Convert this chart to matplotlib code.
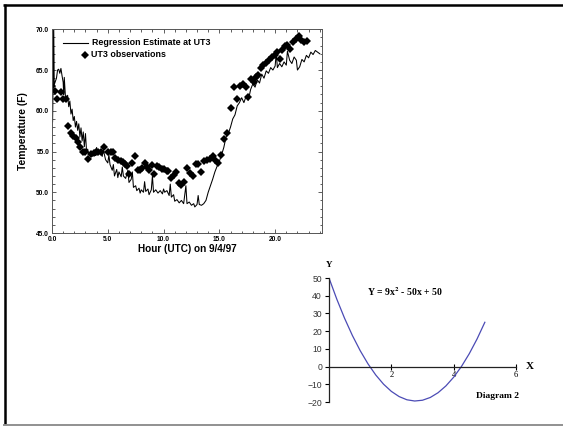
import matplotlib
matplotlib.use("Agg")
import matplotlib.pyplot as plt
from matplotlib.lines import Line2D
from matplotlib.ticker import MultipleLocator, FormatStrFormatter

# ---------------- data: top chart ----------------
reg_hour = [0.00, 0.05, 0.10, 0.15, 0.20, 0.30, 0.40, 0.50, 0.60, 0.70, 0.80, 0.90,
            1.00, 1.05, 1.10, 1.20, 1.30, 1.40, 1.50, 1.60, 1.70, 1.80, 1.90, 2.00,
            2.10, 2.20, 2.30, 2.40, 2.50, 2.60, 2.70, 2.80, 2.90, 3.00, 3.10, 3.20,
            3.30, 3.50, 3.60, 3.80, 3.90, 4.00, 4.10, 4.30, 4.50, 4.60, 4.80, 5.00,
            5.10, 5.20, 5.40, 5.50, 5.60, 5.80, 5.90, 6.00, 6.20, 6.30, 6.40, 6.60,
            6.80, 6.90, 7.10, 7.20, 7.30, 7.50, 7.60, 7.80, 7.90, 8.00, 8.20, 8.30,
            8.40, 8.60, 8.70, 8.90, 9.00, 9.10, 9.30, 9.50, 9.70, 9.90, 10.00, 10.10,
            10.30, 10.50, 10.60, 10.70, 10.90, 11.00, 11.20, 11.40, 11.60, 11.80, 12.00,
            12.10, 12.30, 12.50, 12.70, 12.80, 13.00, 13.10, 13.20, 13.40, 13.60, 13.80,
            14.00, 14.20, 14.40, 14.60, 14.80, 15.00, 15.20, 15.40, 15.60, 15.80, 16.00,
            16.20, 16.40, 16.60, 16.80, 17.00, 17.20, 17.40, 17.60, 17.80, 18.00, 18.20,
            18.40, 18.60, 18.80, 19.00, 19.20, 19.40, 19.60, 19.80, 20.00, 20.10, 20.20,
            20.40, 20.60, 20.80, 21.00, 21.10, 21.30, 21.50, 21.70, 21.90, 22.00, 22.20,
            22.40, 22.60, 22.80, 23.00, 23.20, 23.40, 23.60, 23.80, 24.00]
reg_temp = [63.0, 58.6, 63.5, 71.0, 63.2, 63.6, 64.0, 65.0, 65.1, 64.6, 65.2, 64.3,
            63.5, 62.0, 64.1, 61.8, 61.3, 61.9, 60.5, 61.2, 59.6, 60.2, 58.8, 59.3,
            58.0, 58.7, 57.6, 58.4, 56.8, 57.9, 56.3, 57.4, 55.6, 57.2, 55.0, 55.3,
            54.6, 54.9, 54.4, 55.1, 54.5, 55.5, 54.6, 55.0, 54.4, 55.2, 54.0, 53.6,
            54.6, 53.4, 52.7, 53.4, 52.0, 52.8, 51.8, 52.5, 51.9, 53.1, 52.0, 51.7,
            52.7, 51.2, 51.6, 52.5, 50.6, 50.8, 50.2, 50.5, 49.9, 50.3, 50.0, 51.3,
            50.1, 50.4, 49.7, 50.3, 52.0, 50.0, 50.3, 49.9, 50.2, 49.8, 50.4, 50.0,
            50.2, 49.6, 51.0, 49.4, 49.7, 48.9, 49.1, 48.7, 49.0, 48.6, 50.8,
            48.6, 48.8, 48.4, 48.6, 48.2, 48.5, 49.6, 48.5, 48.4, 48.6, 49.0,
            50.0, 50.8, 51.6, 52.5, 53.2, 53.8, 54.6, 55.5, 56.8, 57.2, 58.0,
            59.0, 59.5, 60.6, 61.0, 61.6, 61.0, 61.8, 61.3, 62.6, 63.3, 62.9,
            63.8, 63.4, 64.5, 64.0, 64.9, 64.6, 65.3, 65.0, 65.5, 67.1, 65.3,
            65.8, 65.4, 66.0, 65.6, 67.3, 66.2, 65.8, 66.6, 66.2, 65.0, 65.4,
            66.3, 66.0, 66.8, 66.5, 67.2, 66.9, 67.4, 67.2, 67.0]

obs_hour = [0.00, 0.30, 0.47, 0.77, 0.97, 1.27, 1.47, 1.71, 1.92, 2.15, 2.36, 2.54,
            2.74, 2.92, 3.19, 3.48, 3.72, 3.92, 4.16, 4.42, 4.69, 4.98, 5.31, 5.49,
            5.69, 5.93, 6.14, 6.34, 6.52, 6.73, 6.93, 7.17, 7.46, 7.70, 7.91, 8.11,
            8.35, 8.55, 8.73, 8.94, 9.14, 9.38, 9.59, 9.82, 10.03, 10.27, 10.41, 10.71,
            10.91, 11.15, 11.39, 11.59, 11.83, 12.06, 12.36, 12.63, 12.92, 13.13, 13.36,
            13.66, 13.89, 14.19, 14.40, 14.60, 14.84, 15.13, 15.43, 15.72, 16.02, 16.31,
            16.61, 16.84, 17.14, 17.35, 17.55, 17.85, 18.10, 18.25, 18.45, 18.70, 18.95,
            19.20, 19.45, 19.70, 19.95, 20.20, 20.45, 20.60, 20.85, 21.10, 21.35, 21.60,
            21.85, 22.10, 22.35, 22.60, 22.85]
obs_temp = [63.05, 62.4, 61.5, 62.3, 61.4, 61.4, 58.15, 57.25, 56.9, 56.6, 56.2, 55.6,
            55.0, 55.0, 54.1, 54.7, 54.8, 54.9, 55.0, 54.9, 55.6, 54.9, 55.0, 55.0,
            54.2, 54.0, 53.8, 53.7, 53.45, 53.2, 52.3, 53.6, 54.4, 52.7, 52.7, 53.0,
            53.6, 53.05, 52.7, 53.3, 52.3, 53.2, 53.1, 52.9, 52.8, 52.6, 52.55, 51.7,
            52.1, 52.5, 51.1, 50.9, 51.3, 53.0, 52.35, 51.95, 53.45, 53.45, 52.5,
            53.8, 53.9, 54.1, 54.4, 53.9, 53.65, 54.55, 56.5, 57.3, 60.3, 62.9,
            61.5, 63.1, 63.3, 62.9, 61.75, 63.9, 63.5, 64.1, 64.4, 65.3, 65.6,
            65.9, 66.2, 66.6, 66.9, 67.2, 66.3, 67.5, 67.9, 68.1, 67.6, 68.4,
            68.8, 69.2, 68.7, 68.5, 68.6]

x_major = [0.0, 5.0, 10.0, 15.0, 20.0]
y_major = [45.0, 50.0, 55.0, 60.0, 65.0, 70.0]

# ---------------- data: bottom chart ----------------
quad_x = [0.0, 0.25, 0.5, 0.75, 1.0, 1.25, 1.5, 1.75, 2.0, 2.25, 2.5, 2.75, 3.0,
          3.25, 3.5, 3.75, 4.0, 4.25, 4.5, 4.75, 5.0]
quad_y = [50.0, 38.06, 27.25, 17.56, 9.0, 1.56, -4.75, -9.94, -14.0, -16.94, -18.75,
          -19.44, -19.0, -17.44, -14.75, -10.94, -6.0, 0.06, 7.25, 15.56, 25.0]
q_yticks = [-20, -10, 0, 10, 20, 30, 40, 50]
q_xticks = [2, 4, 6]

W, H = 563, 426
fig = plt.figure(figsize=(W / 100, H / 100), dpi=100)
fig.patch.set_facecolor("white")

def frac(l, t, r, b):
    return [l / W, 1 - b / H, (r - l) / W, (b - t) / H]

# ---------------- slide border (background axes in pixel units) ----------------
bg = fig.add_axes([0, 0, 1, 1])
bg.set_xlim(0, W)
bg.set_ylim(H, 0)
bg.axis("off")
bg.plot([3, W], [5, 5], color="black", lw=1.8, solid_capstyle="butt")
bg.plot([4.5, 4.5], [4, 424], color="black", lw=1.8, solid_capstyle="butt")
bg.plot([3, W], [424.5, 424.5], color="#888888", lw=1.3, solid_capstyle="butt")

# ---------------- top chart ----------------
sans = "Liberation Sans"
ax = fig.add_axes(frac(52, 29.3, 322, 233))
ax.plot(reg_hour, reg_temp, color="black", lw=0.75)
ax.plot(obs_hour, obs_temp, linestyle="none", marker="D", markersize=3.9,
        color="black", markeredgewidth=0)
ax.set_xlim(0, 24.2)
ax.set_ylim(45, 70)
ax.set_xticks(x_major)
ax.set_yticks(y_major)
ax.xaxis.set_minor_locator(MultipleLocator(1))
ax.yaxis.set_minor_locator(MultipleLocator(1))
ax.xaxis.set_major_formatter(FormatStrFormatter("%.1f"))
ax.yaxis.set_major_formatter(FormatStrFormatter("%.1f"))
ax.tick_params(which="both", direction="in", top=True, right=True,
               labelsize=4.8, width=0.6, colors="#444444", labelcolor="black")
ax.tick_params(which="major", length=3, pad=2)
ax.tick_params(which="minor", length=1.8)
for lab in ax.get_xticklabels() + ax.get_yticklabels():
    lab.set_fontfamily(sans)
    lab.set_fontweight("bold")
for s in ax.spines.values():
    s.set_color("#555555")
    s.set_linewidth(0.7)
ax.set_xlabel("Hour (UTC) on 9/4/97", fontfamily=sans, fontweight="bold",
              fontsize=7.2, labelpad=1)
ax.set_ylabel("Temperature (F)", fontfamily=sans, fontweight="bold",
              fontsize=7.4, labelpad=6)

# legend
ax.add_line(Line2D([0.04, 0.135], [0.935, 0.935], transform=ax.transAxes,
                   color="black", lw=0.8))
ax.add_line(Line2D([0.124], [0.876], transform=ax.transAxes, marker="D",
                   markersize=3.9, color="black", markeredgewidth=0,
                   linestyle="none"))
ax.text(0.148, 0.935, "Regression Estimate at UT3", transform=ax.transAxes,
        fontfamily=sans, fontweight="bold", fontsize=6.4, va="center")
ax.text(0.145, 0.876, "UT3 observations", transform=ax.transAxes,
        fontfamily=sans, fontweight="bold", fontsize=6.4, va="center")

# ---------------- bottom chart ----------------
serif = "Liberation Serif"
bx = fig.add_axes(frac(329, 278, 516, 402))
bx.plot(quad_x, quad_y, color="#4b4bb5", lw=0.9)
bx.set_xlim(0, 6)
bx.set_ylim(-20, 50)
bx.patch.set_alpha(0)
bx.spines["top"].set_visible(False)
bx.spines["right"].set_visible(False)
bx.spines["bottom"].set_position(("data", 0))
for s in ("left", "bottom"):
    bx.spines[s].set_linewidth(0.9)
    bx.spines[s].set_color("#222222")
bx.set_yticks(q_yticks)
bx.set_xticks(q_xticks)
bx.tick_params(axis="y", direction="out", length=3, width=0.8, pad=2,
               labelsize=6.2, labelcolor="#333333")
bx.tick_params(axis="x", direction="inout", length=5, width=0.8, pad=1,
               labelsize=6.2)
for lab in bx.get_yticklabels():
    lab.set_fontfamily(sans)
for lab in bx.get_xticklabels():
    lab.set_fontfamily(serif)
bx.text(6.3, 0, "X", fontfamily=serif, fontweight="bold", fontsize=8,
        va="center", ha="left")
bx.text(0, 57.5, "Y", fontfamily=serif, fontweight="bold", fontsize=6.5,
        va="center", ha="center")
bx.text(2.45, 42.3, r"Y = 9x$^{\mathbf{2}}$ - 50x + 50", fontfamily=serif,
        fontweight="bold", fontsize=7.0, ha="center", va="center",
        math_fontfamily="stix")
bx.text(5.4, -16.4, "Diagram 2", fontfamily=serif, fontweight="bold",
        fontsize=6.8, ha="center", va="center")

fig.savefig("out.png", dpi=100)
